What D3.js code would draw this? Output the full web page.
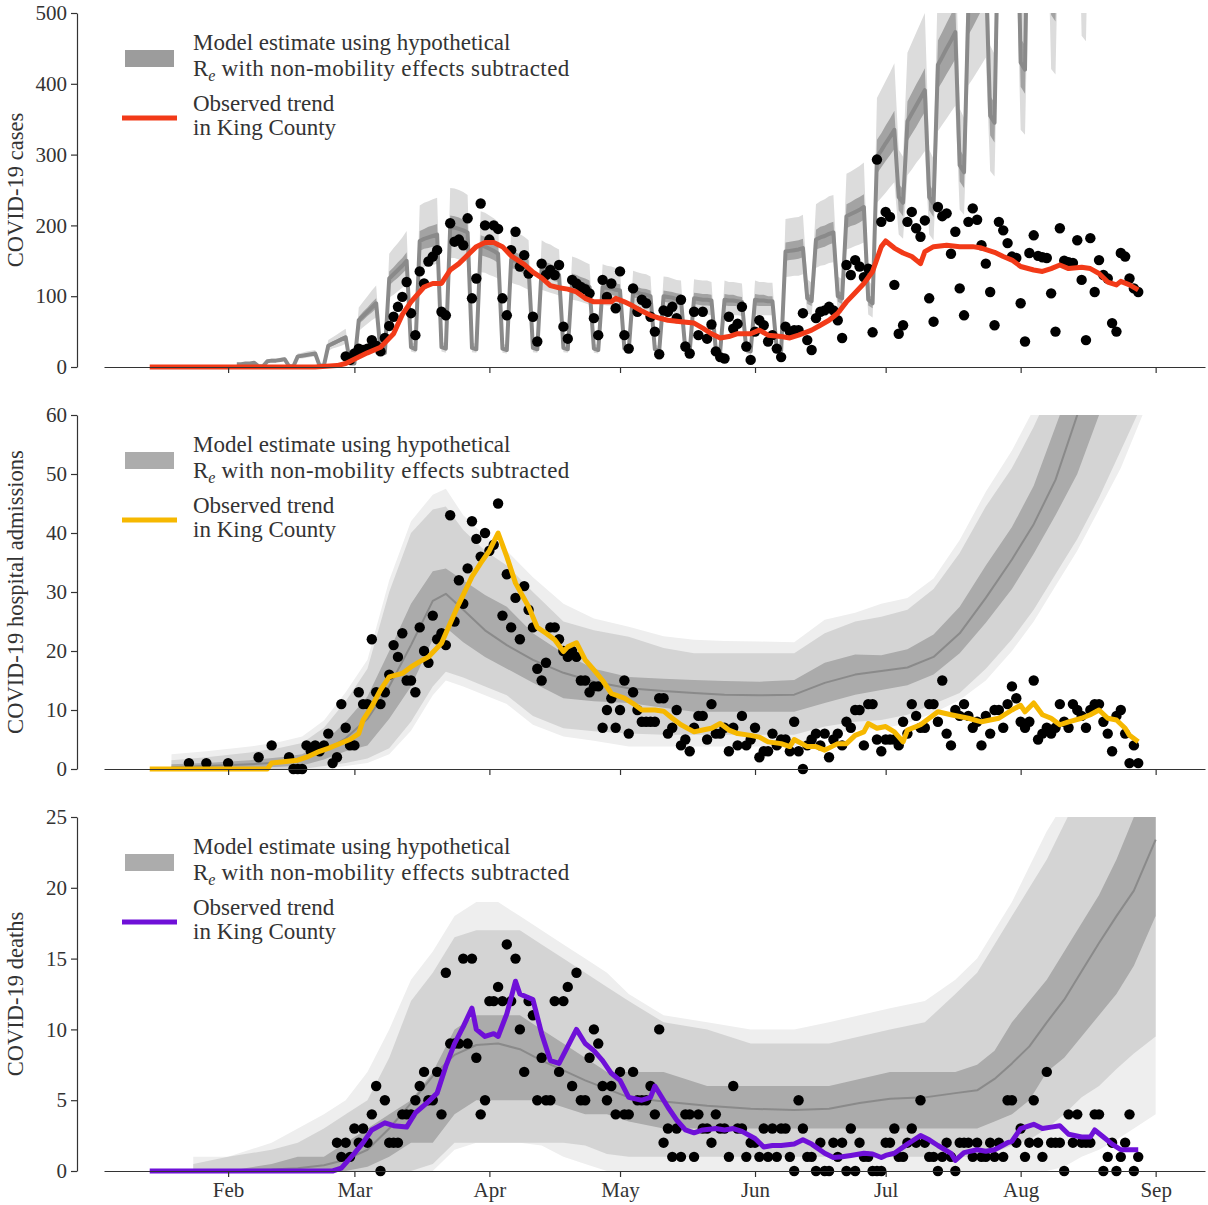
<!DOCTYPE html>
<html>
<head>
<meta charset="utf-8">
<script src="https://cdn.jsdelivr.net/npm/d3@7"></script>
<style>
  body { margin: 0; background: #fff; }
  text { font-family: "Liberation Serif", "DejaVu Serif", serif; }
</style>
</head>
<body>
<svg id="chart" width="1208" height="1205"></svg>
<script>
// Days are counted from Feb 1 2020 (day 0)

// ---------- panel 1: cases ----------
// model, daily from Feb 3 (Mon), one row per week Mon..Sun
const caseModelStart = 2;
const caseModelMed = [
  4,4,5,5,6,1,1, 8,9,9,10,11,1,1, 15,16,17,18,19,2,2, 30,33,36,39,42,5,5,
  66,72,78,84,90,22,20, 125,131,137,143,150,28,25, 178,181,183,185,187,28,26,
  198,197,195,193,190,27,25, 172,170,167,164,160,26,24, 152,150,147,144,140,27,25,
  140,137,135,132,130,27,25, 122,120,118,116,113,26,24, 113,112,111,109,108,26,24,
  106,105,103,102,100,25,23, 100,99,98,96,95,24,22, 97,96,95,95,94,24,22,
  95,94,94,93,92,24,22, 95,94,94,93,93,25,23, 163,164,165,166,168,97,93,
  180,183,185,188,190,100,97, 213,216,219,222,226,95,90, 297,306,316,325,335,240,232,
  347,358,369,380,391,240,230, 427,438,450,461,473,285,275, 510,522,535,548,560,355,345,
  680,695,710,725,740,430,420, 800,815,830,845,860,540,530, 900,920,940,960,980,600,590,
  1000,1020,1040,1060,1080,720,710, 1100,1120,1140,1160,1180,800,790
];
const caseModelDarkLo = [
  4,4,4,5,5,1,1, 7,8,8,9,10,1,1, 14,15,16,17,17,2,2, 28,30,33,36,39,5,5,
  61,66,72,77,83,20,18, 115,121,126,132,138,26,23, 164,167,168,170,172,26,24,
  182,181,179,178,175,25,23, 158,156,154,151,147,24,22, 140,138,135,132,129,25,23,
  129,126,124,121,120,25,23, 112,110,109,107,104,24,22, 104,103,102,100,99,24,22,
  98,97,95,94,92,23,21, 92,91,90,88,87,22,20, 89,88,87,87,86,22,20,
  87,86,86,86,85,22,20, 87,86,86,86,86,23,21, 150,151,152,153,155,89,86,
  166,168,170,173,175,92,89, 196,199,201,204,208,87,83, 273,282,291,299,308,221,213,
  319,329,339,350,360,221,212, 393,403,414,424,435,262,253, 469,480,492,504,515,327,317,
  626,639,653,667,681,396,386, 736,750,764,777,791,497,488, 828,846,865,883,902,552,543,
  920,938,957,975,994,662,653, 1012,1030,1049,1067,1086,736,727
];
const caseModelDarkHi = [
  4,4,5,6,6,1,1, 9,10,10,11,12,1,1, 16,17,18,19,21,2,2, 32,36,39,42,45,5,5,
  71,78,84,91,97,24,22, 135,141,148,154,162,30,27, 192,195,198,200,202,30,28,
  214,213,211,208,205,29,27, 186,184,180,177,173,28,26, 164,162,159,156,151,29,27,
  151,148,146,143,140,29,27, 132,130,127,125,122,28,26, 122,121,120,118,117,28,26,
  114,113,111,110,108,27,25, 108,107,106,104,103,26,24, 105,104,103,103,102,26,24,
  103,102,102,100,99,26,24, 103,102,102,100,100,27,25, 176,177,178,179,181,105,100,
  194,198,200,203,205,108,105, 230,233,237,240,244,103,97, 321,330,341,351,362,259,251,
  375,387,399,410,422,259,248, 461,473,486,498,511,308,297, 551,564,578,592,605,383,373,
  734,751,767,783,799,464,454, 864,880,896,913,929,583,572, 972,994,1015,1037,1058,648,637,
  1080,1102,1123,1145,1166,778,767, 1188,1210,1231,1253,1274,864,853
];
const caseModelLightLo = [
  3,3,4,4,5,1,1, 6,7,7,8,9,1,1, 12,12,13,14,15,2,2, 23,26,28,30,33,4,4,
  51,56,61,66,70,17,16, 98,102,107,112,117,22,20, 139,141,143,144,146,22,20,
  154,154,152,151,148,21,20, 134,133,130,128,125,20,19, 119,117,115,112,109,21,20,
  109,107,105,103,101,21,20, 95,94,92,90,88,20,19, 88,87,87,85,84,20,19,
  83,82,80,80,78,20,18, 78,77,76,75,74,19,17, 76,75,74,74,73,19,17,
  74,73,73,73,72,19,17, 74,73,73,73,73,20,18, 127,128,129,129,131,76,73,
  140,143,144,147,148,78,76, 166,168,171,173,176,74,70, 232,239,246,254,261,187,181,
  271,279,288,296,305,187,179, 333,342,351,360,369,222,215, 398,407,417,427,437,277,269,
  530,542,554,566,577,335,328, 624,636,647,659,671,421,413, 702,718,733,749,764,468,460,
  780,796,811,827,842,562,554, 858,874,889,905,920,624,616
];
const caseModelLightHi = [
  5,5,6,6,8,1,1, 10,12,12,13,14,1,1, 19,20,22,23,24,3,3, 38,42,46,50,54,6,6,
  84,92,100,108,115,28,26, 160,168,175,183,192,36,32, 228,232,234,237,239,36,33,
  253,252,250,247,243,35,32, 220,218,214,210,205,33,31, 195,192,188,184,179,35,32,
  179,175,173,169,166,35,32, 156,154,151,148,145,33,31, 145,143,142,140,138,33,31,
  136,134,132,131,128,32,29, 128,127,125,123,122,31,28, 124,123,122,122,120,31,28,
  122,120,120,119,118,31,28, 122,120,120,119,119,32,29, 209,210,211,212,215,124,119,
  230,234,237,241,243,128,124, 273,276,280,284,289,122,115, 380,392,404,416,429,307,297,
  444,458,472,486,500,307,294, 547,561,576,590,605,365,352, 653,668,685,701,717,454,442,
  870,890,909,928,947,550,538, 1024,1043,1062,1082,1101,691,678, 1152,1178,1203,1229,1254,768,755,
  1280,1306,1331,1357,1382,922,909, 1408,1434,1459,1485,1510,1024,1011
];
// observed daily cases from Feb 28
const caseObsStart = 27;
const caseObs = [
  15,10,19,26,24,26,38,30,
  22,41,58,71,85,99,120, 76,45,135,118,149,156,165, 78,73,203,177,180,172,210,
  97,125,231,200,180,200,195, 97,73,165,191,142,158,132, 71,36,146,130,137,130,144,
  57,40,123,118,113,110,104, 69,45,123,99,118,83,135, 45,26,111,78,95,90,71,
  50,18,80,78,85,69,95, 29,19,78,45,78,40,60, 22,14,12,71,54,61,85,
  29,10,50,66,59,36,45, 26,14,57,50,52,52,76, 38,24,69,78,80,85,80,
  66,41,144,130,151,142,127, 139,49,293,205,219,212,116, 47,59,205,219,196,184,207,
  97,64,226,213,217,160,191, 111,73,205,224,208,172,146, 106,59,205,193,175,156,154,
  90,36,161,186,157,155,154, 104,50,196,150,148,147,179, 123,38,182,106,151,130,125,
  62,50,161,156,125,111,106
];
const caseTrendDays = [-18,20,25,27,30,32,35,38,40,42,45,47,49,51,53,55,57,59,61,63,65,68,70,72,74,76,78,80,82,84,
  86,88,89,91,93,95,97,99,101,104,107,109,111,113,115,117,120,122,124,127,129,131,134,136,138,140,142,144,146,148,
  150,151,153,155,157,159,160,162,165,168,171,173,176,178,180,182,185,187,189,191,193,196,198,200,202,204,205,207,209];
const caseTrendVals = [0,0,2,5,14,20,28,47,74,92,113,118,118,137,146,158,170,176,176,170,157,145,134,126,115,112,110,106,97,92,
  92,92,97,92,86,79,73,69,66,64,62,55,47,41,43,47,47,52,45,43,41,45,52,59,66,76,92,105,118,135,
  170,178,168,161,156,146,163,170,172,170,170,168,162,156,151,142,137,135,139,144,139,141,139,132,120,116,121,116,109];

// ---------- panel 2: hospital admissions ----------
const hospModelDays = [-13,-5,5,12,17,22,27,32,37,42,47,50,54,59,64,70,77,84,92,100,107,114,122,130,137,144,150,156,162,168,174,180,185,190,195,200,205,210,213];
const hospModelMed = [0.3,0.5,0.8,1.1,1.6,3,5.2,8.5,14,21,28.5,29.7,27,23.5,21,18.5,16.3,14.8,13.7,13.2,12.9,12.6,12.5,12.6,14.6,16,16.6,17.2,19,23,29,35.5,41.5,49,60,70,82,96,105];
const hospModelDarkLo = [0,0,0.2,0.4,0.6,1.6,3,4,8.5,14,22,24,21.5,19,17,14.6,12,11.5,11.2,10.4,9.7,9.7,9.7,9.7,11.2,12.6,13.4,14.2,16,19.6,24.8,30.5,36.5,43,50,60,70,82,90];
const hospModelDarkHi = [0.8,1,1.5,2,2.5,4.5,8,12.3,20,28,33.5,34,32,29.5,27.5,23,19.6,17,15.6,15.3,15.1,14.9,14.8,15.1,18,19.4,19.3,20.3,22.8,27.5,34.5,41,48,58,68,80,94,110,120];
const hospModelLightLo = [0,0,0,0,0,0.5,1,1.8,3.5,8,14,16.5,15.5,14,12.5,9,6.9,6.4,6,5.8,5.8,5.8,5.8,5.8,7.2,8,8.3,9.2,11,12.9,17,22,27,33,39,46,54,62,68];
const hospModelLightHi = [1.5,2,2.8,3.6,4.4,7,11.5,17,30,40,44,44.5,40.5,37,34.5,30,25,23.5,22.4,20.5,19.6,19.6,19.6,19.6,23,25,25.8,27,30.5,36.6,44.5,51,58,66,76,90,105,122,132];
const hospModelFaintLo = [0,0,0,0,0,0,0.5,1,2.5,6.5,12.5,15,14,12.5,11,7.5,5.5,4.8,3.8,3.8,3.8,3.8,3.8,3.8,5.8,6.6,6.8,7.8,9.5,11.7,15,20,25,31,37,44,51,60,65];
const hospModelFaintHi = [2.5,3,3.8,4.6,5.5,8.2,13,18.5,32,42,46.5,47.5,43,39.5,37,32.5,28,25.5,24.1,22.5,21.9,21.7,21.6,21.5,25.3,26.5,28,29,32.3,38.8,47,54,61,69,80,95,110,128,138];
const hospEarlyDays = [-9,-5,0,7,10];
const hospEarlyObs = [1,1,1,2,4];
const hospObsStart = 14;
const hospObs = [
  2,0,0,0,4,3,4,
  3,4,6,1,2,11,7, 4,4,13,11,11,22,13, 11,13,16,21,19,23,15, 15,13,24,20,18,26,22,
  23,21,43,25,32,28,34, 42,39,36,40,37,38,45, 26,33,24,29,22,31,27, 24,17,15,18,24,24,22,
  20,19,20,19,15,15,13, 14,14,7,10,12,7,10, 15,6,13,10,8,8,8, 8,12,12,6,7,10,4,
  5,3,7,9,9,5,11, 6,6,7,3,7,4,9, 4,5,7,2,3,3,6, 4,5,5,3,8,3,0,
  4,5,6,4,6,2,5, 6,4,8,7,10,10,4, 11,11,5,3,5,5,5, 4,8,6,11,9,7,7,
  11,11,8,15,6,4,10, 9,11,9,7,8,4,9, 6,10,10,7,11,14,12, 8,7,8,15,5,6,7,
  6,7,11,8,7,11,10, 9,7,10,11,11,8,6, 3,9,10,6,1,4,1
];
const hospTrendDays = [-18,9,10,16,18,21,23,26,28,30,31,33,35,37,40,42,44,46,49,51,53,56,58,60,62,64,66,69,71,73,75,77,78,80,82,84,86,88,91,93,95,98,100,102,104,107,109,111,113,115,117,120,122,124,127,129,130,133,135,137,140,142,144,146,147,149,151,153,155,156,159,161,163,166,168,170,173,175,177,180,182,183,185,187,189,191,193,196,198,200,202,204,206,207,209];
const hospTrendVals = [0,0,1,1.5,2,3,3.5,4.4,5,6,8.3,10.6,13.4,15.6,16.2,17.3,18.2,19,21.3,24.7,28,32.6,34.9,37,40,36,31.5,27.5,24,23,21.9,19.9,20.7,21.4,18.5,16.8,15,12.8,12,11.1,10,10,9.8,8.6,7.5,6.3,6.6,6.9,7.7,6.6,6,5.7,5.4,4.6,4.3,3.8,5,3.8,3.8,3.2,4.3,4.3,5.7,6.3,7.7,6.9,7.2,6.3,4.6,6.6,7.5,8.6,9.7,9.2,8.9,8.6,8,8.3,8.6,10,10.8,9.7,11.2,9.2,8.6,7.5,8,8.6,9.2,10,8.6,8.3,6.9,5.7,4.6];

// ---------- panel 3: deaths ----------
const deathModelDays = [-8,0,10,16,22,27,32,37,42,47,52,57,62,67,72,77,82,87,92,100,110,120,130,138,145,152,160,167,172,176,180,184,188,192,196,200,204,208,213];
const deathModelMed = [0,0.05,0.1,0.2,0.4,0.8,1.5,3,4.8,6.7,8.2,8.9,9,8.6,7.8,7.1,6.4,5.8,5.2,4.9,4.6,4.4,4.3,4.4,4.8,5.1,5.2,5.5,5.7,6.5,7.6,8.8,10.5,12.1,14.1,16.1,18,19.8,23.4];
const deathModelDarkLo = [0,0,0,0,0,0,0.3,1,2,2,4,5,5,5,5,4.5,4,4,3.5,3,3,3,3,3,3,3,3,3,3,3.5,4,5,7,8,9.5,11,12.5,14.5,18];
const deathModelDarkHi = [0,0,0.5,1,1,2,3,4,5,7,10,11,11,11,10,9,8,7,7,7,6,6,6,6,6.5,7,7,7,7.5,8.5,10.5,12,13.5,15.5,17.5,19.5,22,25,29];
const deathModelLightLo = [0,0,0,0,0,0,0,0,0,0.5,2,2,2,2,2,2,1.8,1.2,1,1,1,1,1,1,1,1,1,1,1,1.3,1.8,2.2,3,4,5.2,6,7.2,8.3,9.5];
const deathModelLightHi = [0.5,1,1.5,2,3,4,5,8,12,14,16.5,17,17,17,16,15,14,13,12,10.5,10,9,9,9,9.5,10,10.5,12.5,14,16,18,20,22,24.5,27,29,32,35,38];
const deathModelFaintLo = [0,0,0,0,0,0,0,0,0,0,1.5,2,2,2,1.8,1,0.5,0,0,0,0,0,0,0,0,0,0,0,0,0,0,0,0,0.3,1,1.5,2.2,3,4];
const deathModelFaintHi = [1,1,2,3,4,5,7,10,13.5,15.5,18,19,19,18,17,16,15,14,12.5,11,10.5,10,10,10.5,11,11.5,12,13.5,15,17,19,21.5,24,26,29,31,34,37,40];
const deathObsStart = 25;
const deathObs = [
  2,1,2,
  1,3,2,3,2,4,6, 0,5,2,2,2,4,4, 4,5,6,7,5,5,7, 4,14,9,9,9,15,9,
  15,8,4,5,12,12,13, 12,16,12,15,10,7,12, 11,5,8,5,5,12,7, 12,13,6,14,5,5,8,
  10,9,6,5,6,4,7, 4,4,7,5,5,5,6, 4,10,2,3,1,3,1, 4,4,1,4,3,3,2,
  4,3,3,1,6,3,3, 1,2,2,1,3,1,3, 1,3,3,1,0,5,3, 1,1,0,2,0,0,2,
  1,2,0,3,0,2,1, 1,0,0,0,2,2,3, 1,1,2,3,2,5,2, 1,1,0,1,2,1,0,
  2,2,2,1,2,1,1, 2,1,2,1,5,5,2, 3,1,2,5,2,1,7, 2,2,2,0,4,2,4,
  2,2,2,4,4,0,1, 2,0,1,2,4,0,1
];
const deathTrendDays = [-18,24,26,29,31,33,36,38,41,43,46,48,50,52,54,56,57,59,61,62,64,66,67,70,72,74,76,78,80,82,84,86,88,90,92,95,97,98,101,103,105,107,109,112,114,116,118,121,123,125,127,130,132,134,137,139,141,143,146,148,150,151,153,156,157,159,161,163,166,167,169,172,174,176,179,180,182,185,187,189,191,193,196,198,199,201,203,205,208,209];
const deathTrendVals = [0,0,0.2,1.25,2,2.9,3.4,3.2,3.1,4.1,4.9,5.5,7.4,9,10.2,11.5,10,9.5,9.7,9.5,11.1,13.4,12.5,12.1,9.7,7.8,7.6,8.8,10,9,8.5,7.8,6.9,6.4,5.2,5,5.2,6,4.5,3.6,2.9,2.7,2.9,3,2.9,3,2.8,2.3,1.7,1.8,1.8,1.9,2.2,1.9,1.25,0.95,1,1.1,1.25,1.2,0.95,1.1,1.25,1.9,2.1,2.5,2.2,1.8,1.25,0.75,1.3,1.5,1.4,1.5,2,2.1,3,3.3,3,3.1,3.2,2.6,2.4,2.4,2.9,2.4,1.9,1.5,1.5,1.5];

const monthTicks = [1,2,3,4,5,6,7,8].map(m => new Date(2020, m, 1));

// ---------- drawing ----------
const dayDate = d => new Date(2020, 1, 1 + d);
const x = d3.scaleTime()
  .domain([new Date(2020, 0, 3, 12), new Date(2020, 8, 12, 8)])
  .range([104, 1205]);

const svg = d3.select('#chart');
const FONT = '"Liberation Serif", "DejaVu Serif", serif';
const AXIS = '#333';

const panels = [
  {
    top: 13, bottom: 367, max: 500, step: 100, label: 'COVID-19 cases',
    color: '#f23a18', swatch: '#9c9c9c',
    obsDays: caseObs.map((_, i) => caseObsStart + i), obs: caseObs,
    trendDays: caseTrendDays, trend: caseTrendVals
  },
  {
    top: 415, bottom: 769, max: 60, step: 10, label: 'COVID-19 hospital admissions',
    color: '#f6b800', swatch: '#acacac',
    obsDays: hospEarlyDays.concat(hospObs.map((_, i) => hospObsStart + i)),
    obs: hospEarlyObs.concat(hospObs),
    trendDays: hospTrendDays, trend: hospTrendVals,
    model: { days: hospModelDays, med: hospModelMed, dlo: hospModelDarkLo, dhi: hospModelDarkHi,
             llo: hospModelLightLo, lhi: hospModelLightHi, flo: hospModelFaintLo, fhi: hospModelFaintHi }
  },
  {
    top: 817, bottom: 1171, max: 25, step: 5, label: 'COVID-19 deaths',
    color: '#6f10d8', swatch: '#acacac',
    obsDays: deathObs.map((_, i) => deathObsStart + i), obs: deathObs,
    trendDays: deathTrendDays, trend: deathTrendVals,
    model: { days: deathModelDays, med: deathModelMed, dlo: deathModelDarkLo, dhi: deathModelDarkHi,
             llo: deathModelLightLo, lhi: deathModelLightHi, flo: deathModelFaintLo, fhi: deathModelFaintHi }
  }
];

panels.forEach((p, pi) => {
  const y = d3.scaleLinear().domain([0, p.max]).range([p.bottom, p.top]);
  const g = svg.append('g');

  const clipId = 'clip' + pi;
  svg.append('clipPath').attr('id', clipId)
    .append('rect').attr('x', 0).attr('y', p.top).attr('width', 1208).attr('height', p.bottom - p.top + 1);
  const mg = g.append('g').attr('clip-path', `url(#${clipId})`);

  const band = (days, lo, hi, fill) => {
    const area = d3.area()
      .x((d, i) => x(dayDate(days[i])))
      .y0((d, i) => y(lo[i]))
      .y1((d, i) => y(hi[i]));
    mg.append('path').datum(days).attr('d', area).attr('fill', fill);
  };
  const medLine = (days, med, w) => {
    const line = d3.line().x((d, i) => x(dayDate(days[i]))).y((d, i) => y(med[i]));
    mg.append('path').datum(days).attr('d', line)
      .attr('fill', 'none').attr('stroke', '#8a8a8a').attr('stroke-width', w)
      .attr('stroke-linejoin', 'round');
  };

  if (pi === 0) {
    const days = caseModelMed.map((_, i) => caseModelStart + i);
    band(days, caseModelLightLo, caseModelLightHi, '#dcdcdc');
    band(days, caseModelDarkLo, caseModelDarkHi, '#a3a3a3');
    medLine(days, caseModelMed, 4);
  } else {
    const m = p.model;
    band(m.days, m.flo, m.fhi, '#eeeeee');
    band(m.days, m.llo, m.lhi, '#d4d4d4');
    band(m.days, m.dlo, m.dhi, '#ababab');
    medLine(m.days, m.med, 2);
  }

  // observed daily dots
  g.append('g').selectAll('circle')
    .data(p.obs)
    .enter().append('circle')
    .attr('cx', (d, i) => x(dayDate(p.obsDays[i])))
    .attr('cy', d => y(d))
    .attr('r', 5.2)
    .attr('fill', '#000');

  // observed trend
  const tline = d3.line().x((d, i) => x(dayDate(p.trendDays[i]))).y(d => y(d));
  g.append('path').datum(p.trend).attr('d', tline)
    .attr('fill', 'none').attr('stroke', p.color).attr('stroke-width', 5)
    .attr('stroke-linejoin', 'round').attr('stroke-linecap', 'butt');

  // y axis
  const ticks = d3.range(0, p.max + 0.001, p.step);
  const ya = g.append('g').attr('transform', 'translate(77,0)')
    .call(d3.axisLeft(y).tickValues(ticks).tickSize(6).tickSizeOuter(0).tickPadding(4));
  ya.select('.domain').attr('stroke', AXIS).attr('stroke-width', 1.2);
  ya.selectAll('.tick line').attr('stroke', AXIS).attr('stroke-width', 1.2);
  ya.selectAll('text').attr('font-family', FONT).attr('font-size', 21).attr('fill', '#333');

  // x axis
  const xa = g.append('g').attr('transform', `translate(0,${p.bottom})`)
    .call(d3.axisBottom(x).tickValues(monthTicks).tickSize(6).tickSizeOuter(0).tickPadding(5)
      .tickFormat(pi === 2 ? d3.timeFormat('%b') : ''));
  xa.select('.domain').attr('stroke', AXIS).attr('stroke-width', 1.2);
  xa.selectAll('.tick line').attr('stroke', AXIS).attr('stroke-width', 1.2);
  xa.selectAll('text').attr('font-family', FONT).attr('font-size', 21).attr('fill', '#333');

  // y label
  g.append('text')
    .attr('transform', `translate(15,${(p.top + p.bottom) / 2}) rotate(-90)`)
    .attr('text-anchor', 'middle')
    .attr('dominant-baseline', 'central')
    .attr('font-size', 22.5)
    .attr('fill', '#333')
    .text(p.label);

  // legend
  const lg = g.append('g').attr('transform', `translate(0,${p.top})`);
  lg.append('rect').attr('x', 125).attr('y', 37).attr('width', 49).attr('height', 17).attr('fill', p.swatch);
  lg.append('line').attr('x1', 122).attr('x2', 177).attr('y1', 105).attr('y2', 105)
    .attr('stroke', p.color).attr('stroke-width', 5);
  const txt = (yy) => lg.append('text').attr('x', 193).attr('y', yy)
    .attr('font-size', 23).attr('fill', '#333');
  txt(37).text('Model estimate using hypothetical');
  const t2 = txt(63);
  t2.append('tspan').text('R');
  t2.append('tspan').attr('font-style', 'italic').attr('font-size', 16).attr('dy', 5).text('e');
  t2.append('tspan').attr('dy', -5).attr('letter-spacing', 0.4).text(' with non-mobility effects subtracted');
  txt(98).text('Observed trend');
  txt(122).text('in King County');
});
</script>
</body>
</html>
